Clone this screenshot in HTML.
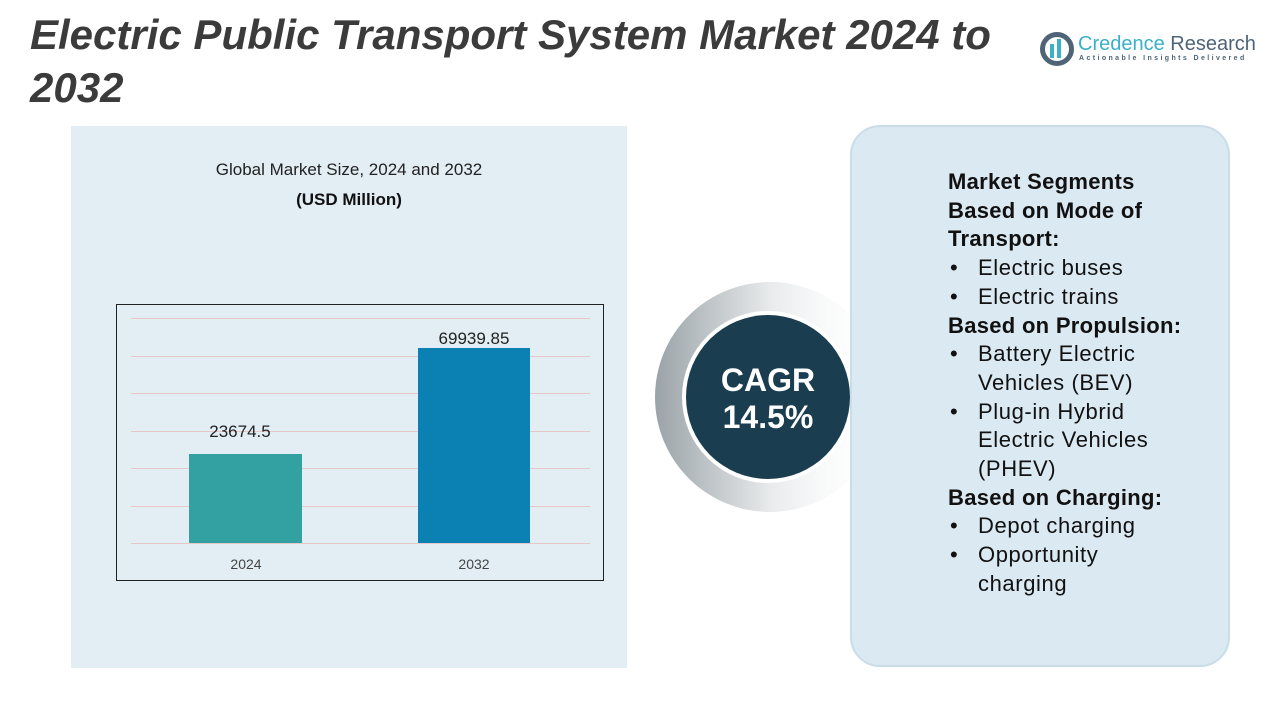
<!DOCTYPE html>
<html><head><meta charset="utf-8"><style>
body{margin:0;width:1280px;height:720px;background:#fff;position:relative;overflow:hidden;font-family:"Liberation Sans",sans-serif}
.t{position:absolute;left:30px;top:8px;font-size:42px;letter-spacing:0px;font-weight:bold;font-style:italic;color:#3b3b3b;line-height:53px;width:1000px}
.abs{position:absolute}
.seg{position:absolute;left:948px;top:168px;font-size:22px;letter-spacing:0.6px;line-height:28.7px;color:#111}
.seg b{display:block;letter-spacing:0.3px}
.seg div.i{padding-left:30px;position:relative}
.seg div.i:before{content:"•";position:absolute;left:2px}
</style></head><body>
<div class="t">Electric Public Transport System Market 2024 to 2032</div>
<div class="abs" style="left:1040px;top:32px;width:34px;height:34px;border-radius:50%;border:5px solid #4f6577;box-sizing:border-box"></div>
<div class="abs" style="left:1050px;top:44px;width:4px;height:14px;background:#3bb0c9"></div>
<div class="abs" style="left:1057px;top:39px;width:4px;height:19px;background:#3bb0c9"></div>
<div class="abs" style="left:1078px;top:33px;font-size:20px;color:#3bb0c9">Credence <span style="color:#4f6577">Research</span></div>
<div class="abs" style="left:1079px;top:55px;font-size:7px;letter-spacing:2.4px;color:#4f6577;font-weight:bold">Actionable Insights Delivered</div>
<div class="abs" style="left:71px;top:126px;width:556px;height:542px;background:#e3edf4"></div>
<div class="abs" style="left:71px;top:160px;width:556px;text-align:center;font-size:17px;color:#222">Global Market Size, 2024 and 2032</div>
<div class="abs" style="left:71px;top:190px;width:556px;text-align:center;font-size:17px;font-weight:bold;color:#111">(USD Million)</div>
<svg class="abs" style="left:0;top:0" width="1280" height="720">
<rect x="116.5" y="304.5" width="487" height="276" fill="none" stroke="#222" stroke-width="1"/>
<g stroke="#e6c8c8" stroke-width="1">
<line x1="131" x2="590" y1="318.5" y2="318.5"/><line x1="131" x2="590" y1="356.5" y2="356.5"/><line x1="131" x2="590" y1="393.5" y2="393.5"/><line x1="131" x2="590" y1="431.5" y2="431.5"/><line x1="131" x2="590" y1="468.5" y2="468.5"/><line x1="131" x2="590" y1="506.5" y2="506.5"/><line x1="131" x2="590" y1="543.5" y2="543.5"/></g>
<rect x="189" y="454" width="113" height="89" fill="#33a1a1"/>
<rect x="418" y="348" width="112" height="195" fill="#0b80b3"/>
<text x="240" y="437" font-size="17" text-anchor="middle" fill="#222" font-family="Liberation Sans">23674.5</text>
<text x="474" y="344" font-size="17" text-anchor="middle" fill="#222" font-family="Liberation Sans">69939.85</text>
<text x="246" y="569" font-size="14" text-anchor="middle" fill="#444" font-family="Liberation Sans">2024</text>
<text x="474" y="569" font-size="14" text-anchor="middle" fill="#444" font-family="Liberation Sans">2032</text>
<defs><linearGradient id="g" x1="0" x2="1"><stop offset="0" stop-color="#9aa3a8"/><stop offset="0.5" stop-color="#e8eaeb"/><stop offset="1" stop-color="#fff" stop-opacity="0"/></linearGradient></defs>
<circle cx="770" cy="397" r="115" fill="url(#g)"/>
<circle cx="768" cy="397" r="86" fill="#fff"/>
<circle cx="768" cy="397" r="82" fill="#1a3d4f"/>
<text x="768" y="391" font-size="32" font-weight="bold" text-anchor="middle" fill="#fff" font-family="Liberation Sans">CAGR</text>
<text x="768" y="428" font-size="32" font-weight="bold" text-anchor="middle" fill="#fff" font-family="Liberation Sans">14.5%</text>
</svg>
<div class="abs" style="left:850px;top:125px;width:380px;height:542px;border-radius:30px;background:#dbe9f2;border:2px solid #c9dde9;box-sizing:border-box"></div>
<div class="seg">
<b>Market Segments</b><b>Based on Mode of</b><b>Transport:</b>
<div class="i">Electric buses</div><div class="i">Electric trains</div>
<b>Based on Propulsion:</b>
<div class="i">Battery Electric<br>Vehicles (BEV)</div><div class="i">Plug-in Hybrid<br>Electric Vehicles<br>(PHEV)</div>
<b>Based on Charging:</b>
<div class="i">Depot charging</div><div class="i">Opportunity<br>charging</div>
</div>
</body></html>
